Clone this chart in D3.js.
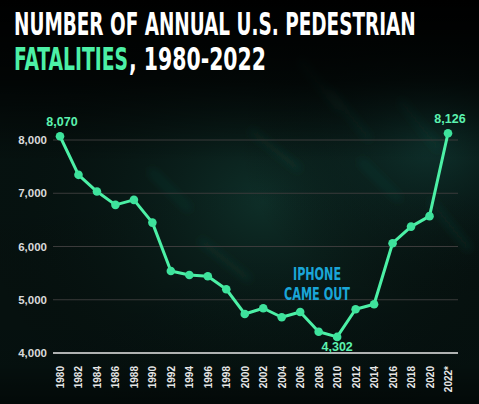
<!DOCTYPE html>
<html><head><meta charset="utf-8">
<script src="https://cdn.jsdelivr.net/npm/d3@7"></script>
<style>html,body{margin:0;padding:0;background:#050a09;}svg{display:block;}</style>
</head><body>
<svg id="chart" width="479" height="404"></svg>
<script>
const years = ["1980","1982","1984","1986","1988","1990","1992","1994","1996","1998","2000","2002","2004","2006","2008","2010","2012","2014","2016","2018","2020","2022*"];
const fatalities = [8070,7346,7032,6782,6876,6449,5541,5466,5442,5197,4733,4840,4671,4771,4400,4302,4821,4915,6062,6374,6570,8126];
const yTicks = [4000,5000,6000,7000,8000];
const labeled = [{i:0,text:"8,070",pos:"above"},{i:15,text:"4,302",pos:"below"},{i:21,text:"8,126",pos:"above"}];
const annotation = ["IPHONE","CAME OUT"];

const W=479,H=404;
const svg=d3.select("#chart");
const defs=svg.append("defs");
const g1=defs.append("radialGradient").attr("id","glow1").attr("cx","0.55").attr("cy","0.5").attr("r","0.6");
g1.append("stop").attr("offset","0").attr("stop-color","#0f332c").attr("stop-opacity",0.9);
g1.append("stop").attr("offset","1").attr("stop-color","#050a09").attr("stop-opacity",0);
const g2=defs.append("radialGradient").attr("id","glow2").attr("cx","0.9").attr("cy","0.35").attr("r","0.4");
g2.append("stop").attr("offset","0").attr("stop-color","#12403a").attr("stop-opacity",0.7);
g2.append("stop").attr("offset","1").attr("stop-color","#050a09").attr("stop-opacity",0);
const fade=defs.append("linearGradient").attr("id","topfade").attr("x1",0).attr("y1",0).attr("x2",0).attr("y2",1);
fade.append("stop").attr("offset","0").attr("stop-color","#000").attr("stop-opacity",1);
fade.append("stop").attr("offset","0.2").attr("stop-color","#000").attr("stop-opacity",0.7);
fade.append("stop").attr("offset","0.4").attr("stop-color","#000").attr("stop-opacity",0);
fade.append("stop").attr("offset","0.9").attr("stop-color","#000").attr("stop-opacity",0.1);
fade.append("stop").attr("offset","1").attr("stop-color","#000").attr("stop-opacity",0.5);
defs.append("filter").attr("id","blur").append("feGaussianBlur").attr("stdDeviation",4);

svg.append("rect").attr("width",W).attr("height",H).attr("fill","#061210");
svg.append("rect").attr("width",W).attr("height",H).attr("fill","url(#glow1)");
svg.append("rect").attr("width",W).attr("height",H).attr("fill","url(#glow2)");
// faint streak texture
const streaks=[[300,60,340,110],[330,90,370,140],[250,130,300,170],[400,100,440,150],[200,240,250,280],[360,160,400,200],[150,170,190,210],[430,200,470,250]];
svg.append("g").attr("filter","url(#blur)").selectAll("line").data(streaks).join("line")
  .attr("x1",d=>d[0]).attr("y1",d=>d[1]).attr("x2",d=>d[2]).attr("y2",d=>d[3])
  .attr("stroke","#1d5a4c").attr("stroke-width",6).attr("stroke-opacity",0.25);
svg.append("rect").attr("width",W).attr("height",H).attr("fill","url(#topfade)");

const x=d3.scalePoint().domain(years).range([60,448]);
const y=d3.scaleLinear().domain([4000,8000]).range([353,140]);
const tickFont="'Liberation Sans', Arial, sans-serif";

// grid
svg.append("g").selectAll("line").data(yTicks.filter(t=>t>4000)).join("line")
  .attr("x1",53).attr("x2",458).attr("y1",d=>y(d)).attr("y2",d=>y(d))
  .attr("stroke","#3b3b3b").attr("stroke-width",1);
svg.append("line").attr("x1",53).attr("x2",458).attr("y1",y(4000)).attr("y2",y(4000))
  .attr("stroke","#e8e8e8").attr("stroke-width",1.5);

// y axis
const yAxis=svg.append("g").attr("transform","translate(50,0)")
  .call(d3.axisLeft(y).tickValues(yTicks).tickFormat(d3.format(",")).tickSize(0).tickPadding(3));
yAxis.select(".domain").remove();
yAxis.selectAll("text").attr("fill","#d9d9d9").attr("font-family",tickFont).attr("font-weight","bold").attr("font-size",11.5);

// x axis
const xAxis=svg.append("g").attr("transform","translate(0,362)")
  .call(d3.axisBottom(x).tickSize(0).tickPadding(0));
xAxis.select(".domain").remove();
xAxis.selectAll("text").attr("fill","#e6e6e6").attr("font-family",tickFont).attr("font-weight","bold").attr("font-size",10)
  .attr("transform","rotate(-90)").attr("text-anchor","end").attr("dy","0.35em").attr("x",-4).attr("y",0);

// line
const lineColor="#4cf0a6";
const data=years.map((yr,i)=>({yr,v:fatalities[i]}));
svg.append("path").datum(data)
  .attr("d",d3.line().x(d=>x(d.yr)).y(d=>y(d.v)))
  .attr("fill","none").attr("stroke",lineColor).attr("stroke-width",3).attr("stroke-linejoin","round");
svg.append("g").selectAll("circle").data(data).join("circle")
  .attr("cx",d=>x(d.yr)).attr("cy",d=>y(d.v)).attr("r",4.3).attr("fill","#3ee29c");

// value labels
svg.append("g").selectAll("text").data(labeled).join("text")
  .attr("x",d=>x(years[d.i])+(d.i===15?0:2))
  .attr("y",d=>d.pos==="above"?y(fatalities[d.i])-10:y(fatalities[d.i])+14)
  .attr("text-anchor","middle").attr("fill","#5cf2b0")
  .attr("font-family",tickFont).attr("font-weight","bold").attr("font-size",12.5)
  .text(d=>d.text);

const titleFont="'Liberation Sans Narrow','DejaVu Sans Condensed',sans-serif";
// fit a text to a target width and cap height: choose the font size from its measured width, then stretch vertically
function fitText(sel, x0, baseline, targetW, capH){
  sel.attr("font-size",20);
  const w=sel.node().getComputedTextLength();
  const fs=20*targetW/w;
  sel.attr("font-size",fs);
  const k=capH/(0.73*fs);
  sel.attr("x",0).attr("y",0).attr("transform",`translate(${x0},${baseline}) scale(1,${k})`);
}

// annotation
svg.append("g").selectAll("text").data(annotation).join("text")
  .attr("fill","#1aa6d8").attr("font-family",titleFont).attr("font-weight","bold")
  .text(d=>d)
  .each(function(d,i){
    const tw=i===0?48:66;
    fitText(d3.select(this), 317-tw/2, 279.5+i*20.5, tw, 13);
  });

// title
const t1=svg.append("text").attr("fill","#ffffff").attr("font-family",titleFont).attr("font-weight","bold")
  .text("NUMBER OF ANNUAL U.S. PEDESTRIAN");
fitText(t1,14,34.5,402,23.5);
const t2a=svg.append("text").attr("fill","#4cf0a6").attr("font-family",titleFont).attr("font-weight","bold")
  .text("FATALITIES");
fitText(t2a,14,70,114,23.5);
const t2b=svg.append("text").attr("fill","#ffffff").attr("font-family",titleFont).attr("font-weight","bold")
  .text(", 1980-2022");
fitText(t2b,129,70,137,23.5);
</script>
</body></html>
